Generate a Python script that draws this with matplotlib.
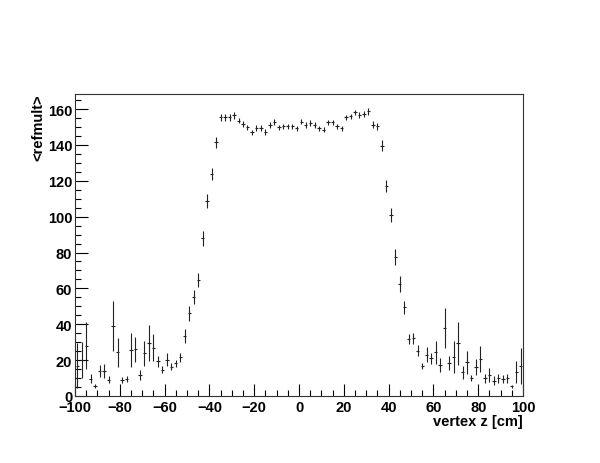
import numpy as np
import matplotlib
matplotlib.use("Agg")
import matplotlib.pyplot as plt
from matplotlib.ticker import MultipleLocator

# bin centres of vertex z [cm] (2 cm bins from -100 to 100)
vz = np.arange(-99, 100, 2)

refmult = [
    17.0, 20.0, 28.0, 9.5, 5.7, 14.0, 14.0, 9.0, 39.0, 24.3,
    9.0, 9.5, 25.6, 26.0, 11.7, 23.8, 29.5, 27.0, 19.3, 14.7,
    20.2, 16.3, 18.2, 21.6, 33.3, 46.0, 55.3, 64.8, 87.9, 108.9,
    123.7, 141.4, 155.3, 155.5, 155.3, 156.6, 153.5, 151.6, 149.8, 147.0,
    149.5, 149.5, 147.3, 151.0, 152.7, 149.8, 150.3, 150.3, 150.3, 149.3,
    152.9, 151.0, 152.2, 151.0, 149.2, 148.5, 152.5, 152.5, 150.3, 149.2,
    155.3, 155.9, 158.1, 156.6, 157.2, 158.8, 151.3, 150.3, 139.5, 117.2,
    100.9, 77.3, 62.4, 49.4, 31.8, 32.1, 25.3, 16.7, 22.9, 21.0,
    24.4, 17.3, 37.9, 18.4, 21.6, 29.5, 13.2, 18.8, 10.0, 16.3,
    20.6, 9.8, 11.7, 8.5, 9.8, 9.5, 9.8, 5.4, 13.5, 16.9,
]

refmult_err = [
    12.5, 10.0, 13.0, 2.5, 1.0, 3.5, 4.0, 2.0, 14.0, 8.0,
    1.5, 1.5, 9.5, 7.0, 3.0, 7.0, 10.0, 7.5, 3.0, 2.0,
    3.7, 2.0, 2.0, 2.5, 4.0, 4.0, 4.0, 4.0, 4.0, 4.0,
    3.5, 3.0, 2.0, 2.0, 2.0, 2.0, 1.5, 1.5, 1.5, 1.5,
    1.5, 1.5, 1.5, 1.5, 1.5, 1.5, 1.5, 1.5, 1.5, 1.5,
    1.5, 1.5, 1.5, 1.5, 1.5, 1.5, 1.5, 1.5, 1.5, 1.5,
    1.5, 1.5, 1.5, 1.5, 1.5, 2.0, 2.0, 2.0, 3.0, 3.5,
    4.0, 4.5, 4.5, 3.5, 3.0, 3.0, 3.0, 1.5, 4.2, 3.0,
    6.5, 4.0, 11.0, 4.0, 9.0, 12.0, 3.5, 6.5, 1.5, 4.5,
    7.0, 2.5, 4.0, 2.5, 2.5, 2.0, 2.5, 1.0, 6.0, 10.0,
]

x_ticks = [-100, -80, -60, -40, -20, 0, 20, 40, 60, 80, 100]
y_ticks = [0, 20, 40, 60, 80, 100, 120, 140, 160]

plt.rcParams['font.family'] = ['Liberation Sans', 'DejaVu Sans']

fig = plt.figure(figsize=(6.0, 4.64), dpi=100)
ax = fig.add_axes([0.125, 0.1444, 0.7467, 0.6509])

ax.errorbar(vz, refmult, yerr=refmult_err, xerr=0.75, fmt='none',
            ecolor='#222222', elinewidth=0.8, capsize=0)

ax.set_xlim(-100, 100)
ax.set_ylim(0, 168.4)
ax.set_xticks(x_ticks)
ax.set_yticks(y_ticks)
ax.xaxis.set_minor_locator(MultipleLocator(5))
ax.yaxis.set_minor_locator(MultipleLocator(5))
ax.tick_params(axis='both', which='major', direction='in', length=9, width=0.8,
               labelsize=10.5, top=False, right=False)
ax.tick_params(axis='both', which='minor', direction='in', length=4.5, width=0.8,
               top=False, right=False)
ax.tick_params(axis='x', pad=3)
ax.tick_params(axis='y', pad=2)
for lab in ax.get_xticklabels() + ax.get_yticklabels():
    lab.set_fontweight('bold')
for sp in ax.spines.values():
    sp.set_linewidth(0.8)
    sp.set_color('#333333')

ax.set_xlabel('vertex z [cm]', fontsize=10.5, fontweight='bold', loc='right')
ax.xaxis.set_label_coords(1.0, -0.06)
ax.xaxis.label.set_va('top')
ax.set_ylabel('<refmult>', fontsize=10.5, fontweight='bold', loc='top')
ax.yaxis.set_label_coords(-0.067, 1.0)

fig.savefig('out.png', dpi=100, facecolor='white')
